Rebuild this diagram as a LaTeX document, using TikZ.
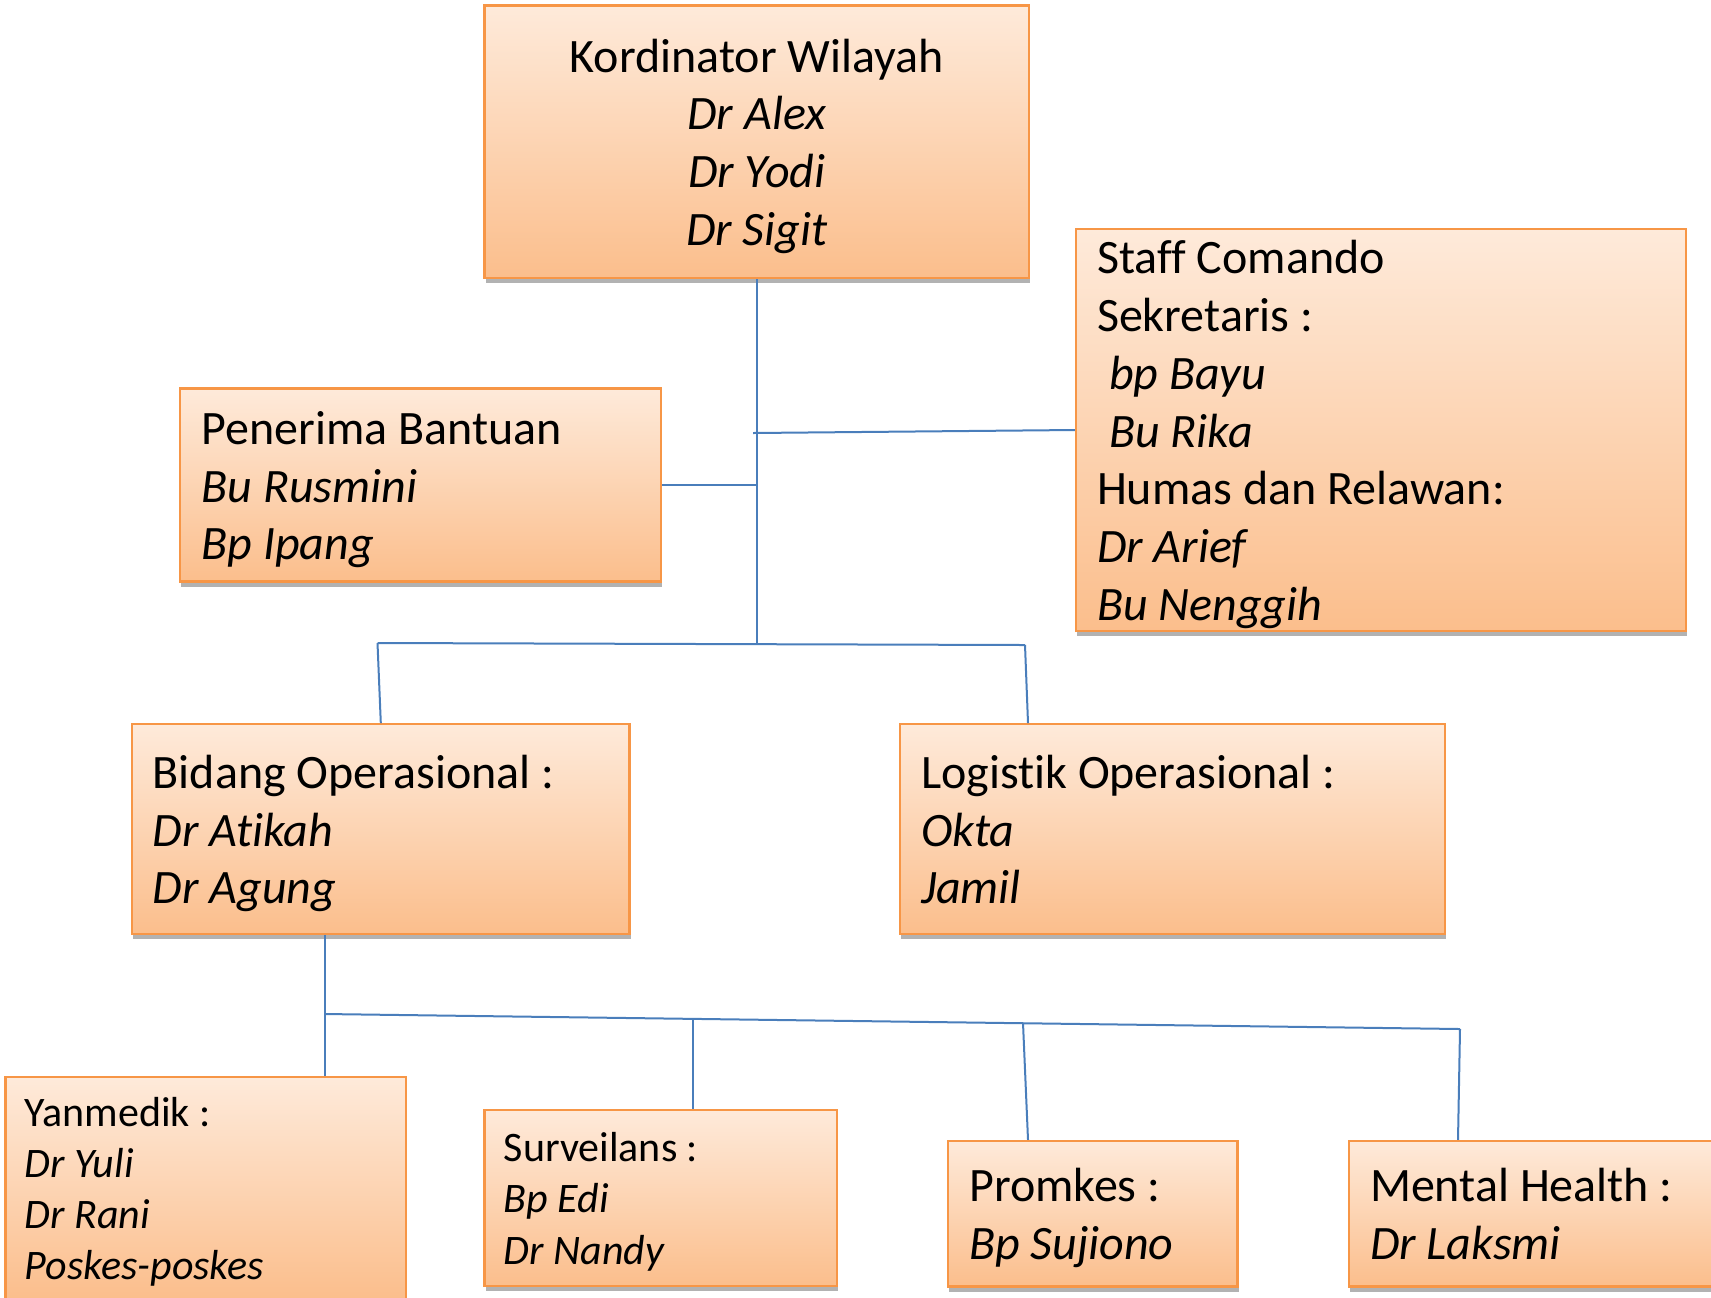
\documentclass[tikz,border=0pt]{standalone}
\usepackage{fontspec}
\setmainfont[Ligatures=NoCommon]{Carlito}
\usetikzlibrary{shadows}
\definecolor{BoxLine}{RGB}{247,150,70}
\definecolor{BoxTop}{RGB}{254,234,218}
\definecolor{BoxBottom}{RGB}{251,190,140}
\definecolor{LinkBlue}{RGB}{74,126,187}
\newcommand{\bigtext}{\fontsize{24}{28.9}\selectfont}
\newcommand{\smalltext}{\fontsize{21}{25.6}\selectfont}

\begin{document}
\begin{tikzpicture}[x=0.5pt, y=-0.5pt,
    orgbox/.style={draw=BoxLine, line width=1.2pt, top color=BoxTop, bottom color=BoxBottom,
      inner xsep=10pt, inner ysep=0pt, align=left, font=\bigtext,
      execute at begin node={\spaceskip=0.226em\xspaceskip=0.226em\rule{0pt}{0.91em}},
      execute at end node={\rule[-0.2em]{0pt}{0pt}},
      drop shadow={shadow xshift=0.5pt, shadow yshift=-2.5pt, opacity=0.3, fill=black}},
    link/.style={draw=LinkBlue, line width=1pt}]
    \useasboundingbox (0,0) rectangle (1711,1297);
    \clip (0,0) rectangle (1711,1297);

    % top level
    \node[orgbox, align=center, minimum width=272.25pt, minimum height=136.25pt, text width=251pt] (koord) at (756.75,141.75)
        {Kordinator Wilayah\\\textit{Dr Alex}\\\textit{Dr Yodi}\\\textit{Dr Sigit}};
    \node[orgbox, minimum width=240.5pt, minimum height=96.5pt, text width=219pt] (penerima) at (420.5,485)
        {Penerima Bantuan\\\textit{Bu Rusmini}\\\textit{Bp Ipang}};
    \node[orgbox, minimum width=305pt, minimum height=201pt, text width=284pt] (staff) at (1381,430)
        {Staff Comando\\Sekretaris :\\\hspace{0.25em}\textit{bp Bayu}\\\hspace{0.25em}\textit{Bu Rika}\\Humas dan Relawan:\\\textit{Dr Arief}\\\textit{Bu Nenggih}};

    % second level
    \node[orgbox, minimum width=248.8pt, minimum height=104.75pt, text width=228pt] (bidang) at (380.8,829)
        {Bidang Operasional :\\\textit{Dr Atikah}\\\textit{Dr Agung}};
    \node[orgbox, minimum width=272.5pt, minimum height=104.75pt, text width=251.5pt] (logistik) at (1172.5,829)
        {Logistik Operasional :\\\textit{Okta}\\\textit{Jamil}};

    % third level
    \node[orgbox, font=\smalltext, inner xsep=9pt, minimum width=200.25pt, minimum height=111pt, text width=181pt] (yanmedik) at (205.75,1188)
        {Yanmedik :\\\textit{Dr Yuli}\\\textit{Dr Rani}\\\textit{Poskes-poskes}};
    \node[orgbox, font=\smalltext, inner xsep=9pt, minimum width=176.25pt, minimum height=88.25pt, text width=157pt] (surveilans) at (660.75,1198)
        {Surveilans :\\\textit{Bp Edi}\\\textit{Dr Nandy}};
    \node[orgbox, minimum width=144.75pt, minimum height=72.75pt, text width=123.5pt] (promkes) at (1092.75,1213.75)
        {Promkes :\\\textit{Bp Sujiono}};
    \node[orgbox, minimum width=200.5pt, minimum height=72.75pt, text width=179.5pt] (mental) at (1549.5,1213.75)
        {Mental Health :\\\textit{Dr Laksmi}};

    % connectors
    \coordinate (busL) at (377.5,643);
    \coordinate (busM) at (756.75,644);
    \coordinate (busR) at (1025,645);
    \coordinate (staffJ) at (753,433);
    \draw[link] (koord.south) -- (busM);
    \draw[link] (penerima.east) -- (penerima.east -| koord.south);
    \draw[link] (staffJ) -- (staff.west);
    \draw[link] (busL) -- (busR);
    \draw[link] (busL) -- (bidang.north);
    \draw[link] (busR) -- ([xshift=1.5pt]busR |- logistik.north);

    \coordinate (subA) at (325,1014);
    \coordinate (subB) at (693,1019);
    \coordinate (subC) at (1023,1023);
    \coordinate (subD) at (1460,1029);
    \draw[link] (subA |- bidang.south) -- (subA |- yanmedik.north);
    \draw[link] (subA) -- (subD);
    \draw[link] (subB) -- (subB |- surveilans.north);
    \draw[link] (subC) -- ([xshift=2.5pt]subC |- promkes.north);
    \draw[link] (subD) -- ([xshift=-1pt]subD |- mental.north);
\end{tikzpicture}
\end{document}
